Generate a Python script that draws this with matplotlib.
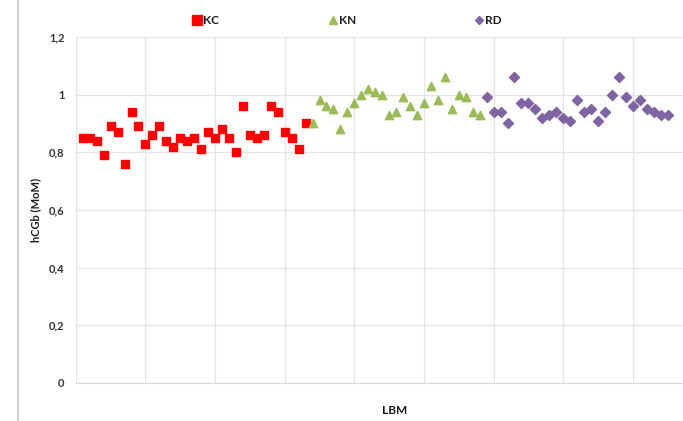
import matplotlib.pyplot as plt
from matplotlib.lines import Line2D

# values (hCGb in MoM)
kc_values = [0.85, 0.85, 0.84, 0.79, 0.89, 0.87, 0.76, 0.94, 0.89, 0.83, 0.86,
             0.89, 0.84, 0.82, 0.85, 0.84, 0.85, 0.81, 0.87, 0.85, 0.88, 0.85,
             0.80, 0.96, 0.86, 0.85, 0.86, 0.96, 0.94, 0.87, 0.85, 0.81, 0.90]
kn_values = [0.90, 0.98, 0.96, 0.95, 0.88, 0.94, 0.97, 1.00, 1.02, 1.01, 1.00,
             0.93, 0.94, 0.99, 0.96, 0.93, 0.97, 1.03, 0.98, 1.06, 0.95, 1.00,
             0.99, 0.94, 0.93]
rd_values = [0.99, 0.94, 0.94, 0.90, 1.06, 0.97, 0.97, 0.95, 0.92, 0.93, 0.94,
             0.92, 0.91, 0.98, 0.94, 0.95, 0.91, 0.94, 1.00, 1.06, 0.99, 0.96,
             0.98, 0.95, 0.94, 0.93, 0.93]
series_names = ['KC', 'KN', 'RD']
y_ticks = [0, 0.2, 0.4, 0.6, 0.8, 1.0, 1.2]
y_tick_labels = ['0', '0,2', '0,4', '0,6', '0,8', '1', '1,2']

# x positions: one after another, like the sample order in the sheet
kc_x = list(range(1, len(kc_values) + 1))
kn_x = list(range(kc_x[-1] + 1, kc_x[-1] + 1 + len(kn_values)))
rd_x = list(range(kn_x[-1] + 1, kn_x[-1] + 1 + len(rd_values)))

plt.rcParams['font.family'] = ['Lato', 'DejaVu Sans']

fig = plt.figure(figsize=(6.83, 4.21), dpi=100)
ax = fig.add_axes([0.111, 0.0903, 0.889, 0.822])

ax.scatter(kc_x, kc_values, marker='s', s=36, color='#ff0000', label=series_names[0], zorder=3)
ax.scatter(kn_x, kn_values, marker='^', s=36, color='#9bbb59', label=series_names[1], zorder=3)
ax.scatter(rd_x, rd_values, marker='D', s=26, color='#8064a2', label=series_names[2], zorder=3)

ax.set_xlim(0, 87.2)
ax.set_ylim(0, 1.2)
ax.set_xticks(range(0, 90, 10))
ax.set_xticklabels([])
ax.set_yticks(y_ticks)
ax.set_yticklabels(y_tick_labels, fontsize=8, fontweight='bold', color='#333333')
ax.tick_params(length=0, pad=8)
ax.grid(True, color='#e4e4e4', linewidth=0.9, zorder=0)
ax.set_axisbelow(True)
for side in ['top', 'right', 'left']:
    ax.spines[side].set_visible(False)
ax.spines['bottom'].set_color('#d9d9d9')

ax.set_ylabel('hCGb (MoM)', fontsize=8, fontweight='bold', color='#1a1a1a', labelpad=6)
fig.text(395 / 683, 1 - 410 / 421, 'LBM', fontsize=8.5, fontweight='bold',
         color='#1a1a1a', ha='center', va='center')

# legend spread across the top, as in the Excel chart
legend_x = [197, 333, 479]
legend_markers = [('s', '#ff0000', 6.5), ('^', '#9bbb59', 6), ('D', '#8064a2', 4.5)]
for name, lx, (mk, col, ms) in zip(series_names, legend_x, legend_markers):
    fig.add_artist(Line2D([lx / 683], [1 - 20 / 421], marker=mk, color=col,
                          markersize=ms, linestyle='none'))
    fig.text((lx + 6) / 683, 1 - 20 / 421, name, fontsize=8.5, fontweight='bold',
             color='#1a1a1a', va='center', ha='left')

# grey left border of the screenshot
fig.add_artist(Line2D([18 / 683, 18 / 683], [0, 1], color='#d0d0d0', linewidth=1.5))

fig.savefig('out.png', dpi=100)
